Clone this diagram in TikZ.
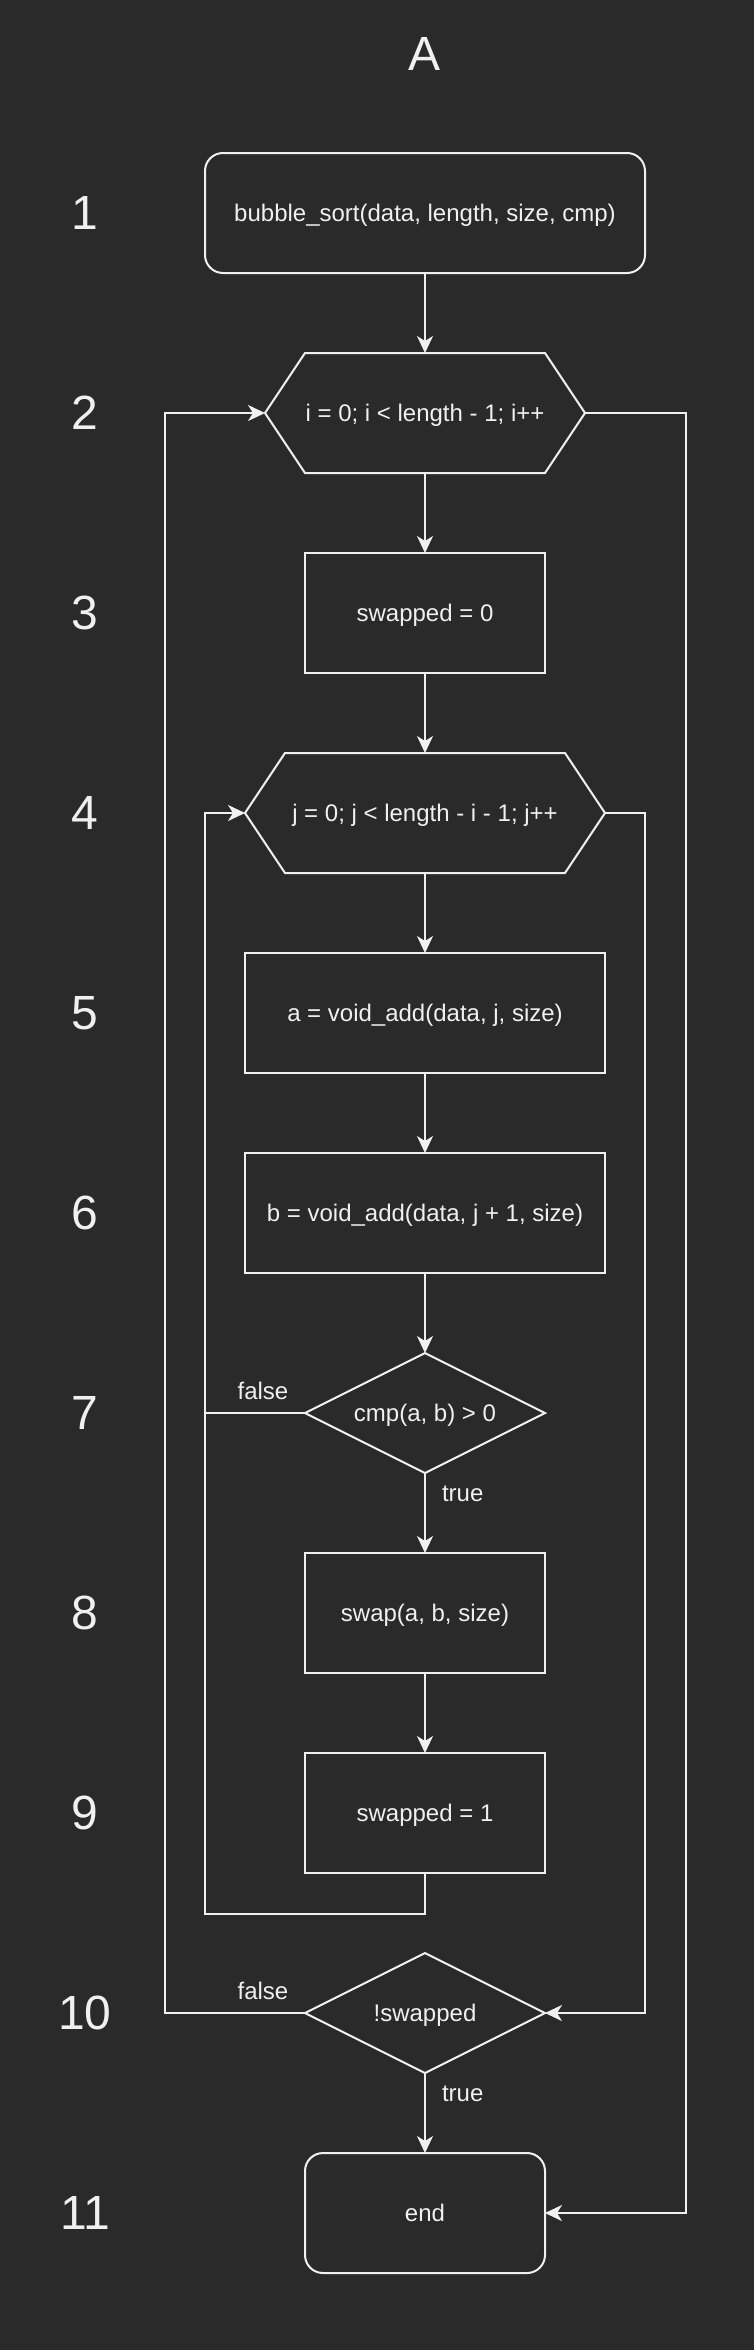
\documentclass[tikz,border=0pt]{standalone}
\usepackage{fontspec}
\setmainfont{Liberation Sans}
\usetikzlibrary{arrows.meta,positioning,shapes.geometric}
\definecolor{bgdark}{HTML}{2A2A2A}
\definecolor{fgline}{HTML}{F0F0F0}
\tikzset{>={Stealth[length=17pt,width=16pt,inset=5pt]},
	base/.style={draw=fgline, line width=2pt, text=fgline,
		font=\fontsize{24}{28}\selectfont, text height=21.7pt, text depth=5.1pt,
		inner sep=0pt, outer sep=0pt, minimum height=120pt},
	terminal/.style={base, rectangle, rounded corners=18pt, minimum width=240pt},
	process/.style={base, rectangle, minimum width=240pt},
	loophead/.style={base, rectangle, draw=none},
	decision/.style={base, diamond, aspect=2, minimum width=240pt},
	rownum/.style={text=fgline, font=\fontsize{48}{56}\selectfont},
	branch/.style={text=fgline, font=\fontsize{24}{28}\selectfont, inner sep=0pt},
	flow/.style={draw=fgline, line width=2pt, ->},
	plain/.style={draw=fgline, line width=2pt}}

\begin{document}
\begin{tikzpicture}[x=1pt, y=1pt, node distance=80pt]
	\useasboundingbox (0,0) rectangle (753,-2350);
	\fill[bgdark] (-4,4) rectangle (757,-2354);
	
	\node[rownum] (title) at (425,-54) {A};
	\foreach \n in {1,...,11}
		\node[rownum] (num\n) at (85,{-13-200*\n}) {\n};
	
	\node[terminal, minimum width=440pt] (start) at (425,-213) {bubble\_sort(data, length, size, cmp)};
	\node[loophead, minimum width=320pt, below=of start] (iloop) {i = 0; i < length - 1; i++};
	\node[process, below=of iloop] (swap0) {swapped = 0};
	\node[loophead, minimum width=360pt, below=of swap0] (jloop) {j = 0; j < length - i - 1; j++};
	\node[process, minimum width=360pt, below=of jloop] (geta) {a = void\_add(data, j, size)};
	\node[process, minimum width=360pt, below=of geta] (getb) {b = void\_add(data, j + 1, size)};
	\node[decision, below=of getb] (cmp) {cmp(a, b) > 0};
	\node[process, below=of cmp] (doswap) {swap(a, b, size)};
	\node[process, below=of doswap] (swap1) {swapped = 1};
	\node[decision, below=of swap1] (check) {!swapped};
	\node[terminal, below=of check] (finish) {end};
	
	% hexagon outlines for the loop heads
	\foreach \h in {iloop,jloop}
		\draw[plain] (\h.west) -- ([xshift=40pt]\h.north west) -- ([xshift=-40pt]\h.north east)
			-- (\h.east) -- ([xshift=-40pt]\h.south east) -- ([xshift=40pt]\h.south west) -- cycle;
	
	% loop rails
	\coordinate (outerL) at (165,0);
	\coordinate (innerL) at (205,0);
	\coordinate (innerR) at (645,0);
	\coordinate (outerR) at (686,0);
	\coordinate (jback) at (0,-1914);
	
	\draw[flow] (start) -- (iloop);
	\draw[flow] (iloop) -- (swap0);
	\draw[flow] (swap0) -- (jloop);
	\draw[flow] (jloop) -- (geta);
	\draw[flow] (geta) -- (getb);
	\draw[flow] (getb) -- (cmp);
	\draw[flow] (cmp) -- node[branch, right=16pt, pos=0.26] {true} (doswap);
	\draw[flow] (doswap) -- (swap1);
	\draw[flow] (check) -- node[branch, right=16pt, pos=0.26] {true} (finish);
	
	\draw[plain] (cmp.west) -- node[branch, above=12pt, pos=0.42] {false} (cmp.west -| innerL);
	\draw[flow] (swap1.south) -- (swap1.south |- jback) -- (jback -| innerL)
		-- (jloop.west -| innerL) -- (jloop.west);
	\draw[flow] (jloop.east) -- (jloop.east -| innerR) -- (check.east -| innerR) -- (check.east);
	\draw[flow] (check.west) -- node[branch, above=12pt, pos=0.3] {false} (check.west -| outerL)
		-- (iloop.west -| outerL) -- (iloop.west);
	\draw[flow] (iloop.east) -- (iloop.east -| outerR) -- (finish.east -| outerR) -- (finish.east);
\end{tikzpicture}
\end{document}
